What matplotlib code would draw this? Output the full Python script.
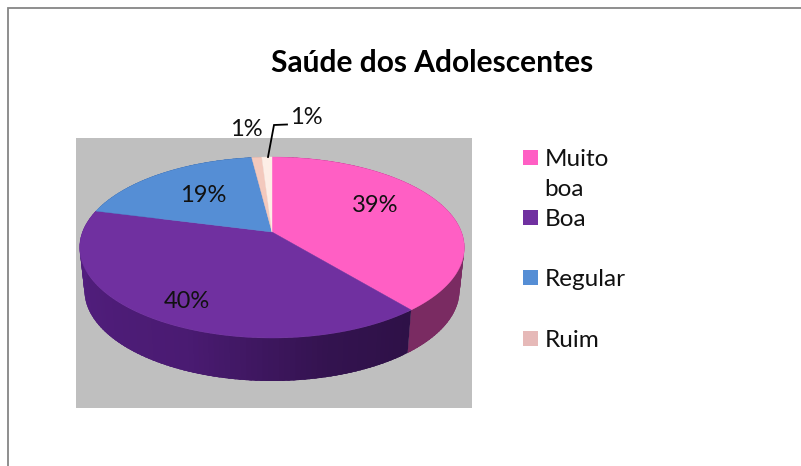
import numpy as np
import matplotlib
matplotlib.use("Agg")
import matplotlib.pyplot as plt
from matplotlib.colors import to_rgb
from matplotlib.patches import Polygon, Rectangle

title = "Saúde dos Adolescentes"
categories = ["Muito\nboa", "Boa", "Regular", "Ruim", ""]
values = [39, 40, 19, 1, 1]
pct_labels = ["39%", "40%", "19%", "1%", "1%"]
top_colors = ["#ff5fc4", "#7030a0", "#558ed5", "#f3c9bd", "#fdeee6"]
wall_colors = ["#7a2b62", "#4a1b72", "#2f4f80", "#a08080", "#b0a0a0"]
legend_colors = ["#ff5fc4", "#7030a0", "#558ed5", "#e6b9b8"]

plt.rcParams["font.family"] = ["Lato", "DejaVu Sans"]
W, H = 801, 466
fig = plt.figure(figsize=(W / 100, H / 100), dpi=100)
ax = fig.add_axes([0, 0, 1, 1])
ax.set_xlim(0, W)
ax.set_ylim(H, 0)
ax.axis("off")

# chart frame
ax.plot([7.5, 7.5, W], [H, 7.5, 7.5], color="#868686", lw=1.3, solid_joinstyle="miter")
# plot-area background
ax.add_patch(Rectangle((76, 138), 396, 269.5, fc="#bfbfbf", ec="none"))

# perspective projection of the pie disc
CX, CY, K, A, C = 272.0, 232.0, 189.5, -48.1, 0.1713


def project(frac):
    t = 2 * np.pi * np.asarray(frac)
    u, v = np.sin(t), np.cos(t)
    d = 1 + C * v
    return CX + K * u / d, (CY + A * v) / d


def wall(frac):
    x, y = project(frac)
    return CX + (x - CX) * 0.975, y + 43


cum = np.concatenate([[0], np.cumsum(values)]) / np.sum(values)

# side wall: overlapping strips so that no seams show
for i in range(len(values)):
    n = max(3, int(260 * values[i] / 100))
    fs = np.linspace(cum[i], cum[i + 1], n)
    step = fs[1] - fs[0]
    for a in fs[:-1]:
        b = min(a + 2.5 * step, cum[i + 1])
        xa, ya = project(a)
        xb, yb = project(b)
        xc, yc = wall(b)
        xd, yd = wall(a)
        shade = 1.0
        if i == 1:
            shade = np.interp(a, [0.39, 0.46, 0.56, 0.79], [0.62, 0.70, 1.0, 1.15])
        rgb = np.clip(np.array(to_rgb(wall_colors[i])) * shade, 0, 1)
        ax.add_patch(Polygon([(xa, ya), (xb, yb), (xc, yc), (xd, yd)], fc=rgb, ec="none"))

# top face
for i in range(len(values)):
    fs = np.linspace(cum[i], cum[i + 1], max(4, int(360 * values[i] / 100)))
    xs, ys = project(fs)
    pts = [(CX, CY)] + list(zip(xs, ys))
    ax.add_patch(Polygon(pts, fc=top_colors[i], ec=top_colors[i], lw=0.3))

# percent labels
label_xy = [(375, 205), (187, 301), (203, 195), (246, 130), (306, 117)]
for s, (x, y) in zip(pct_labels, label_xy):
    ax.text(x, y, s, ha="center", va="center", fontsize=17, color="#111111")

# leader line
ax.plot([268, 274, 287], [157, 125, 124.5], color="black", lw=1.3, solid_joinstyle="miter")

# title
ax.text(432.5, 63, title, ha="center", va="center", fontsize=21.5, fontweight="bold", color="black")

# legend
leg_y = [150, 210, 270, 331]
for name, col, y in zip(categories[:4], legend_colors, leg_y):
    ax.add_patch(Rectangle((523, y), 15, 15, fc=col, ec="none"))
    lines = name.split("\n")
    ax.text(544.5, y + 9.5, lines[0], ha="left", va="center", fontsize=17.5, color="#111111")
    if len(lines) > 1:
        ax.text(544.5, y + 40, lines[1], ha="left", va="center", fontsize=17.5, color="#111111")

fig.savefig("out.png", dpi=100, facecolor="white")
